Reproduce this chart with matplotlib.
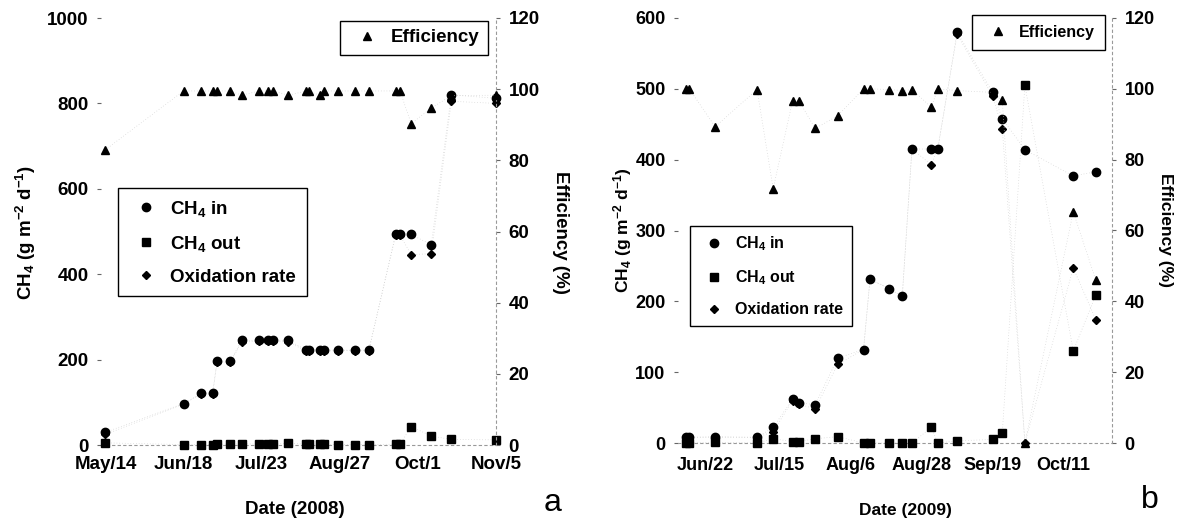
import matplotlib
matplotlib.use("Agg")
import matplotlib.pyplot as plt
from matplotlib.lines import Line2D
import pandas as pd

plt.rcParams['font.family'] = ['Liberation Sans', 'DejaVu Sans']
plt.rcParams['font.weight'] = 'bold'
plt.rcParams['mathtext.fontset'] = 'custom'
plt.rcParams['mathtext.rm'] = 'Liberation Sans:bold'
plt.rcParams['mathtext.default'] = 'rm'

# ---- 2008 (painel a) ----
datas_08 = ["2008-05-14", "2008-06-18", "2008-06-26", "2008-07-01", "2008-07-03", "2008-07-09",
            "2008-07-14", "2008-07-22", "2008-07-26", "2008-07-28", "2008-08-04", "2008-08-12",
            "2008-08-13", "2008-08-18", "2008-08-20", "2008-08-26", "2008-09-03", "2008-09-09",
            "2008-09-21", "2008-09-23", "2008-09-28", "2008-10-07", "2008-10-16", "2008-11-05"]
ch4_in_08 = [30, 97, 121, 121, 196, 196, 245, 245, 245, 245, 245, 222,
             222, 222, 222, 222, 222, 222, 493, 493, 493, 469, 820, 812]
ch4_out_08 = [5, 1, 1, 1, 2, 2, 3, 2, 2, 2, 4, 2,
              2, 2, 2, 1, 1, 1, 2, 2, 43, 21, 13, 12]
oxid_08 = [25, 96, 120, 119, 194, 194, 241, 243, 243, 243, 241, 220,
           220, 220, 220, 221, 221, 221, 491, 491, 446, 448, 805, 800]
efic_08 = [83, 99.5, 99.5, 99.5, 99.5, 99.5, 98.3, 99.5, 99.5, 99.5, 98.3, 99.5,
           99.5, 98.3, 99.5, 99.5, 99.5, 99.5, 99.5, 99.5, 90.3, 94.7, 98.2, 98.3]
ticks_08 = ["2008-05-14", "2008-06-18", "2008-07-23", "2008-08-27", "2008-10-01", "2008-11-05"]
rotulos_08 = ["May/14", "Jun/18", "Jul/23", "Aug/27", "Oct/1", "Nov/5"]

# ---- 2009 (painel b) ----
datas_09 = ["2009-06-16", "2009-06-17", "2009-06-25", "2009-07-08", "2009-07-13", "2009-07-19",
            "2009-07-21", "2009-07-26", "2009-08-02", "2009-08-10", "2009-08-12", "2009-08-18",
            "2009-08-22", "2009-08-25", "2009-08-31", "2009-09-02", "2009-09-08", "2009-09-19",
            "2009-09-22", "2009-09-29", "2009-10-14", "2009-10-21"]
ch4_in_09 = [8, 8, 9, 8, 22, 62, 57, 54, 120, 132, 231, 218,
             207, 415, 415, 415, 580, 495, 458, 414, 377, 383]
ch4_out_09 = [0, 0, 1, 0, 6, 2, 2, 6, 9, 0, 0, 0,
              0, 0, 22, 0, 3, 5, 14, 505, 130, 209]
oxid_09 = [8, 8, 8, 8, 16, 60, 55, 48, 111, 132, 231, 218,
           207, 415, 393, 415, 577, 490, 444, 0, 247, 174]
efic_09 = [100, 100, 89.3, 99.8, 71.8, 96.6, 96.6, 88.8, 92.4, 100, 100, 99.8,
           99.5, 99.8, 94.8, 100, 99.5, 99, 96.8, 0, 65.3, 45.9]
ticks_09 = ["2009-06-22", "2009-07-15", "2009-08-06", "2009-08-28", "2009-09-19", "2009-10-11"]
rotulos_09 = ["Jun/22", "Jul/15", "Aug/6", "Aug/28", "Sep/19", "Oct/11"]

LINHA = dict(ls=(0, (1, 3)), color='0.8', lw=0.5, zorder=1)
W, H = 1177, 520


def painel(rect, datas, c_in, c_out, oxid, efic, xlim, ymax, ystep, ticks, rotulos,
           leg_baixo, leg_cima, fs_tick, fs_leg, pad_x, espaco, borda_cima):
    ax = fig.add_axes(rect)
    x = pd.to_datetime(datas)
    # linhas pontilhadas bem fracas ligando os pontos
    for serie in (c_in, c_out, oxid):
        ax.plot(x, serie, clip_on=False, **LINHA)
    ax.plot(x, c_in, 'o', color='black', ms=6, ls='none', clip_on=False, zorder=3)
    ax.plot(x, c_out, 's', color='black', ms=5.5, ls='none', clip_on=False, zorder=3)
    ax.plot(x, oxid, 'D', color='black', ms=4, ls='none', clip_on=False, zorder=4)
    ax.set_xlim(pd.to_datetime(xlim[0]), pd.to_datetime(xlim[1]))
    ax.set_ylim(0, ymax)
    ax.set_yticks(range(0, ymax + 1, ystep))
    ax.set_xticks(pd.to_datetime(ticks))
    ax.set_xticklabels(rotulos)
    ax.tick_params(axis='y', direction='out', length=3, width=0.8, color='0.4', labelsize=fs_tick, pad=6)
    ax.tick_params(axis='x', length=0, labelsize=fs_tick, pad=pad_x)
    for s in ('top', 'left', 'right'):
        ax.spines[s].set_visible(False)
    ax.spines['bottom'].set_linestyle((0, (2, 3)))
    ax.spines['bottom'].set_color('0.6')
    ax.spines['bottom'].set_linewidth(0.8)

    ax2 = ax.twinx()
    ax2.plot(x, efic, clip_on=False, **LINHA)
    ax2.plot(x, efic, '^', color='black', ms=5.5, ls='none', clip_on=False, zorder=3)
    ax2.set_ylim(0, 120)
    ax2.set_yticks(range(0, 121, 20))
    ax2.tick_params(axis='y', direction='out', length=3, width=0.8, color='0.4', labelsize=fs_tick, pad=6)
    for s in ('top', 'left', 'bottom'):
        ax2.spines[s].set_visible(False)
    ax2.spines['right'].set_linestyle((0, (2, 3)))
    ax2.spines['right'].set_color('0.6')
    ax2.spines['right'].set_linewidth(0.8)

    marcas = [Line2D([], [], marker='o', color='black', ls='none', ms=6),
              Line2D([], [], marker='s', color='black', ls='none', ms=5.5),
              Line2D([], [], marker='D', color='black', ls='none', ms=4)]
    leg = ax2.legend(marcas, ['CH$_4$ in', 'CH$_4$ out', 'Oxidation rate'], loc='upper left',
                     bbox_to_anchor=leg_baixo, fontsize=fs_leg, fancybox=False, edgecolor='black',
                     framealpha=1, handlelength=1.9, handletextpad=0.35, labelspacing=espaco,
                     borderpad=0.55, borderaxespad=0)
    leg.get_frame().set_linewidth(1.0)
    ax2.add_artist(leg)
    leg2 = ax2.legend([Line2D([], [], marker='^', color='black', ls='none', ms=5.5)], ['Efficiency'],
                      loc='upper right', bbox_to_anchor=leg_cima, fontsize=fs_leg, fancybox=False,
                      edgecolor='black', framealpha=1, handlelength=1.9, handletextpad=0.35,
                      borderpad=borda_cima, borderaxespad=0)
    leg2.get_frame().set_linewidth(1.0)
    return ax, ax2


fig = plt.figure(figsize=(W / 100, H / 100), dpi=100)

# painel a: eixos de x=101 a 496 px, y=18 a 445 px
painel([101 / W, (H - 445) / H, 395 / W, 427 / H], datas_08, ch4_in_08, ch4_out_08, oxid_08,
       efic_08, ("2008-05-12", "2008-11-05"), 1000, 200, ticks_08, rotulos_08,
       (0.043, 0.601), (0.98, 0.994), 13.5, 13.5, 8, 0.8, 0.45)
# painel b: eixos de x=678 a 1112 px, y=18 a 443 px
painel([678 / W, (H - 443) / H, 434 / W, 425 / H], datas_09, ch4_in_09, ch4_out_09, oxid_09,
       efic_09, ("2009-06-13 12:00", "2009-10-26"), 600, 100, ticks_09, rotulos_09,
       (0.028, 0.511), (0.984, 1.008), 13, 11.5, 10, 0.95, 0.65)

rot_y = 'CH$_4$ (g m$^{-2}$ d$^{-1}$)'
fig.text(26 / W, 1 - 232 / H, rot_y, rotation=90, ha='center', va='center', fontsize=13.5)
fig.text(560 / W, 1 - 232 / H, 'Efficiency (%)', rotation=270, ha='center', va='center', fontsize=13.5)
fig.text(623 / W, 1 - 230 / H, rot_y, rotation=90, ha='center', va='center', fontsize=12.5)
fig.text(1165 / W, 1 - 230 / H, 'Efficiency (%)', rotation=270, ha='center', va='center', fontsize=12.5)
fig.text(295 / W, 1 - 510 / H, 'Date (2008)', ha='center', va='center', fontsize=13.5)
fig.text(905 / W, 1 - 510 / H, 'Date (2009)', ha='center', va='center', fontsize=12.5)
fig.text(553 / W, 1 - 503 / H, 'a', ha='center', va='center', fontsize=23, fontweight='normal')
fig.text(1150 / W, 1 - 500 / H, 'b', ha='center', va='center', fontsize=23, fontweight='normal')

fig.savefig("out.png", dpi=100)
